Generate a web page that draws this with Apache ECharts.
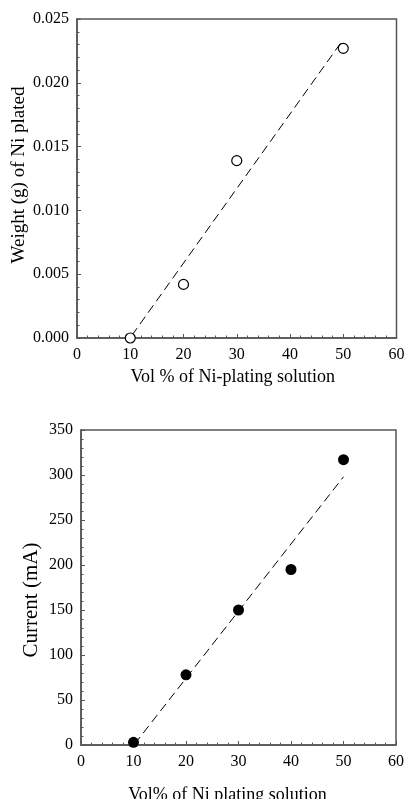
<!DOCTYPE html>
<html>
<head>
<meta charset="utf-8">
<script src="https://cdn.jsdelivr.net/npm/echarts@6/dist/echarts.min.js"></script>
<style>
  html, body { margin: 0; padding: 0; background: #fff; }
  #chart { width: 406px; height: 799px; }
</style>
</head>
<body>
<div id="chart"></div>
<script>
// top panel: weight of Ni plated
const volTop = [10, 20, 30, 50]
const weightVals = [0.0, 0.0042, 0.0139, 0.0227]
const weightFit = [[10.3, 0.0002], [50, 0.0234]]

// bottom panel: current
const volBottom = [10, 20, 30, 40, 50]
const currentVals = [3, 78, 150, 195, 317]
const currentFit = [[10.2, 1], [50, 298]]

const font = 'Liberation Serif'
const axisGray = '#555'

function xAx(gridIndex, name, nameGap, pad) {
  return {
    gridIndex: gridIndex,
    type: 'value',
    min: 0,
    max: 60,
    interval: 10,
    name: name,
    nameLocation: 'middle',
    nameGap: nameGap,
    nameMoveOverlap: false,
    nameTextStyle: { fontFamily: font, fontSize: 18, color: '#000', padding: pad },
    axisLine: { lineStyle: { color: axisGray, width: 1.5 } },
    axisTick: { inside: true, length: 4, lineStyle: { color: axisGray } },
    minorTick: { show: true, splitNumber: 5, length: 2.5, lineStyle: { color: axisGray } },
    axisLabel: { fontFamily: font, fontSize: 16, color: '#000', margin: 9 },
    splitLine: { show: false }
  }
}

function yAx(gridIndex, max, interval, name, nameGap, nameSize, pad, fmt) {
  return {
    gridIndex: gridIndex,
    type: 'value',
    min: 0,
    max: max,
    interval: interval,
    name: name,
    nameLocation: 'middle',
    nameGap: nameGap,
    nameMoveOverlap: false,
    nameTextStyle: { fontFamily: font, fontSize: nameSize, color: '#000', padding: pad },
    axisLine: { show: true, lineStyle: { color: axisGray, width: 1.5 } },
    axisTick: { show: true, inside: true, length: 4, lineStyle: { color: axisGray } },
    minorTick: { show: true, splitNumber: 5, length: 2.5, lineStyle: { color: axisGray } },
    axisLabel: { fontFamily: font, fontSize: 16, color: '#000', margin: 8, formatter: fmt },
    splitLine: { show: false }
  }
}

const chart = echarts.init(document.getElementById('chart'))
chart.setOption({
  animation: false,
  backgroundColor: '#fff',
  grid: [
    { left: 77, right: 9.5, top: 19, height: 319, show: true, borderColor: axisGray, borderWidth: 1.5, outerBoundsMode: 'none', containLabel: false },
    { left: 81, right: 10, top: 430, height: 315, show: true, borderColor: axisGray, borderWidth: 1.5, outerBoundsMode: 'none', containLabel: false }
  ],
  xAxis: [
    xAx(0, 'Vol % of Ni-plating solution', 30, [0, 8, 0, 0]),
    xAx(1, 'Vol% of Ni plating solution', 41, [0, 22, 0, 0])
  ],
  yAxis: [
    yAx(0, 0.025, 0.005, 'Weight (g) of Ni plated', 48, 19, [0, 0, 0, 7], v => v.toFixed(3)),
    yAx(1, 350, 50, 'Current (mA)', 39, 21, [0, 25, 0, 0], v => v)
  ],
  series: [
    {
      type: 'line',
      xAxisIndex: 0,
      yAxisIndex: 0,
      data: weightFit,
      symbol: 'none',
      lineStyle: { color: '#000', width: 1, type: [9, 5] },
      z: 1
    },
    {
      type: 'scatter',
      xAxisIndex: 0,
      yAxisIndex: 0,
      data: volTop.map((x, i) => [x, weightVals[i]]),
      symbol: 'circle',
      symbolSize: 10,
      itemStyle: { color: '#fff', borderColor: '#000', borderWidth: 1.2, opacity: 1 },
      z: 3
    },
    {
      type: 'line',
      xAxisIndex: 1,
      yAxisIndex: 1,
      data: currentFit,
      symbol: 'none',
      lineStyle: { color: '#000', width: 1, type: [9, 5] },
      z: 1
    },
    {
      type: 'scatter',
      xAxisIndex: 1,
      yAxisIndex: 1,
      data: volBottom.map((x, i) => [x, currentVals[i]]),
      symbol: 'circle',
      symbolSize: 11,
      itemStyle: { color: '#000', opacity: 1 },
      z: 3
    }
  ]
})
</script>
</body>
</html>
